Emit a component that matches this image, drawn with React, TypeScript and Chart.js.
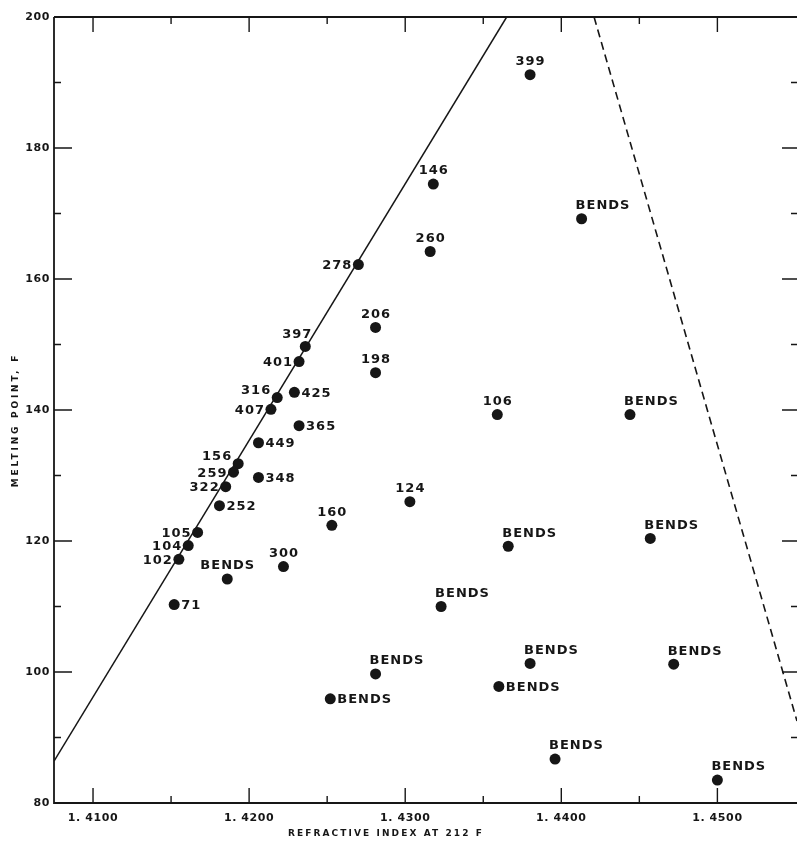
import { useEffect, useRef } from "react";
import { Chart, registerables } from "chart.js";

Chart.register(...registerables);

// ---- data ----
const pointLabels = [
  "399", "146", "BENDS", "260", "278", "206", "198", "397", "401", "316",
  "425", "407", "365", "449", "156", "259", "322", "348", "252", "106",
  "BENDS", "124", "160", "105", "104", "102", "BENDS", "300", "71",
  "BENDS", "BENDS", "BENDS", "BENDS", "BENDS", "BENDS", "BENDS", "BENDS", "BENDS", "BENDS",
];
const refractiveIndex = [
  1.4380, 1.4318, 1.4413, 1.4316, 1.4270, 1.4281, 1.4281, 1.4236, 1.4232, 1.4218,
  1.4229, 1.4214, 1.4232, 1.4206, 1.4193, 1.4190, 1.4185, 1.4206, 1.4181, 1.4359,
  1.4444, 1.4303, 1.4253, 1.4167, 1.4161, 1.4155, 1.4186, 1.4222, 1.4152,
  1.4366, 1.4457, 1.4323, 1.4281, 1.4252, 1.4380, 1.4360, 1.4472, 1.4396, 1.4500,
];
const meltingPoint = [
  191.2, 174.5, 169.2, 164.2, 162.2, 152.6, 145.7, 149.7, 147.4, 141.9,
  142.7, 140.1, 137.6, 135.0, 131.8, 130.5, 128.3, 129.7, 125.4, 139.3,
  139.3, 126.0, 122.4, 121.3, 119.3, 117.2, 114.2, 116.1, 110.3,
  119.2, 120.4, 110.0, 99.7, 95.9, 101.3, 97.8, 101.2, 86.7, 83.5,
];
// where each label sits relative to its dot (style)
const labelPlacement = [
  "above", "above", "aboveR", "above", "left", "above", "above", "aboveL", "left", "upLeft",
  "right", "left", "right", "right", "upLeft", "left", "left", "right", "right", "above",
  "aboveR", "above", "above", "left", "left", "left", "above", "above", "right",
  "aboveR", "aboveR", "aboveR", "aboveR", "right", "aboveR", "right", "aboveR", "aboveR", "aboveR",
];

const solidLineX = [1.4075, 1.4365];
const solidLineY = [86.4, 200];
const dashedLineX = [1.4421, 1.4551];
const dashedLineY = [200, 92.5];

const xMajorTicks = [1.41, 1.42, 1.43, 1.44, 1.45];
const xMinorTicks = [1.415, 1.425, 1.435, 1.445];
const yMajorTicks = [80, 100, 120, 140, 160, 180, 200];
const yMinorTicks = [90, 110, 130, 150, 170, 190];

const X_MIN = 1.4075;
const X_MAX = 1.4551;
const Y_MIN = 80;
const Y_MAX = 200;

const xTitle = "REFRACTIVE INDEX AT 212 F";
const yTitle = "MELTING POINT, F";

const INK = "#161616";
const FONT = "'DejaVu Sans', sans-serif";

const decorPlugin = {
  id: "decor",
  beforeDraw(chart: any) {
    const ctx = chart.ctx;
    ctx.save();
    ctx.fillStyle = "#ffffff";
    ctx.fillRect(0, 0, chart.width, chart.height);
    ctx.restore();
    // letter spacing for the tick labels drawn by the scales
    (ctx as any).letterSpacing = "0.6px";
  },
  afterDatasetsDraw(chart: any) {
    const ctx = chart.ctx;
    const { left, right, top, bottom } = chart.chartArea;
    const xs = chart.scales.x;
    const ys = chart.scales.y;
    ctx.save();
    (ctx as any).letterSpacing = "0px";
    ctx.strokeStyle = INK;
    ctx.lineCap = "butt";
    // axis frame lines
    ctx.lineWidth = 1.8;
    ctx.beginPath();
    ctx.moveTo(left, top);
    ctx.lineTo(right, top);
    ctx.moveTo(left, top);
    ctx.lineTo(left, bottom);
    ctx.lineTo(right, bottom);
    ctx.stroke();
    // tick marks pointing inward
    ctx.lineWidth = 1.4;
    ctx.beginPath();
    const xt = (vals: number[], len: number) => {
      vals.forEach((v) => {
        const px = xs.getPixelForValue(v);
        ctx.moveTo(px, bottom);
        ctx.lineTo(px, bottom - len);
        ctx.moveTo(px, top);
        ctx.lineTo(px, top + len);
      });
    };
    xt(xMajorTicks, 15);
    xt(xMinorTicks, 7);
    const yt = (vals: number[], lenL: number, lenR: number) => {
      vals.forEach((v) => {
        const py = ys.getPixelForValue(v);
        ctx.moveTo(left, py);
        ctx.lineTo(left + lenL, py);
        ctx.moveTo(right, py);
        ctx.lineTo(right - lenR, py);
      });
    };
    yt(yMajorTicks.filter((v) => v !== Y_MIN && v !== Y_MAX), 18, 15);
    yt(yMinorTicks, 7, 6);
    ctx.stroke();

    // point labels
    const meta = chart.getDatasetMeta(0);
    ctx.fillStyle = INK;
    ctx.font = `bold 13px ${FONT}`;
    (ctx as any).letterSpacing = "1px";
    ctx.textBaseline = "middle";
    meta.data.forEach((el: any, i: number) => {
      const px = el.x;
      const py = el.y;
      const t = pointLabels[i];
      const p = labelPlacement[i];
      if (p === "above") {
        ctx.textAlign = "center";
        ctx.fillText(t, px + 0.5, py - 13);
      } else if (p === "aboveR") {
        ctx.textAlign = "left";
        ctx.fillText(t, px - 6, py - 13);
      } else if (p === "aboveL") {
        ctx.textAlign = "right";
        ctx.fillText(t, px + 7, py - 12);
      } else if (p === "left") {
        ctx.textAlign = "right";
        ctx.fillText(t, px - 6, py + 1);
      } else if (p === "upLeft") {
        ctx.textAlign = "right";
        ctx.fillText(t, px - 6, py - 7);
      } else {
        ctx.textAlign = "left";
        ctx.fillText(t, px + 7, py + 1);
      }
    });

    // axis titles
    ctx.font = `bold 9px ${FONT}`;
    (ctx as any).letterSpacing = "2.1px";
    ctx.textAlign = "center";
    ctx.textBaseline = "middle";
    ctx.fillText(xTitle, 386, 834);
    ctx.save();
    ctx.translate(16, 420);
    ctx.rotate(-Math.PI / 2);
    (ctx as any).letterSpacing = "2.8px";
    ctx.fillText(yTitle, 0, 0);
    ctx.restore();
    ctx.restore();
  },
};

export default function App() {
  const ref = useRef<HTMLCanvasElement | null>(null);
  useEffect(() => {
    if (!ref.current) return;
    const points = refractiveIndex.map((x, i) => ({ x, y: meltingPoint[i] }));
    const solid = solidLineX.map((x, i) => ({ x, y: solidLineY[i] }));
    const dashed = dashedLineX.map((x, i) => ({ x, y: dashedLineY[i] }));
    const chart = new Chart(ref.current, {
      type: "scatter",
      data: {
        datasets: [
          {
            data: points,
            backgroundColor: INK,
            borderColor: INK,
            pointRadius: 5.5,
            pointHoverRadius: 5.5,
            borderWidth: 0,
          },
          {
            type: "line",
            data: solid,
            showLine: true,
            borderColor: INK,
            borderWidth: 1.5,
            pointRadius: 0,
            fill: false,
          } as any,
          {
            type: "line",
            data: dashed,
            showLine: true,
            borderColor: INK,
            borderWidth: 1.6,
            borderDash: [8, 5],
            pointRadius: 0,
            fill: false,
          } as any,
        ],
      },
      options: {
        animation: false,
        responsive: false,
        layout: { autoPadding: false, padding: { top: 17, right: 0, left: 0, bottom: 0 } },
        plugins: { legend: { display: false }, tooltip: { enabled: false } },
        events: [],
        scales: {
          x: {
            type: "linear",
            min: X_MIN,
            max: X_MAX,
            grid: { display: false, drawTicks: false },
            border: { display: false },
            afterBuildTicks: (s: any) => {
              s.ticks = xMajorTicks.map((v) => ({ value: v }));
            },
            afterFit: (s: any) => {
              s.height = 40;
            },
            ticks: {
              autoSkip: false,
              maxRotation: 0,
              padding: 9,
              color: INK,
              font: { family: FONT, size: 11, weight: "bold" },
              callback: (v: any) => Number(v).toFixed(4).replace(".", ". "),
            },
          },
          y: {
            type: "linear",
            min: Y_MIN,
            max: Y_MAX,
            grid: { display: false, drawTicks: false },
            border: { display: false },
            afterBuildTicks: (s: any) => {
              s.ticks = yMajorTicks.map((v) => ({ value: v }));
            },
            afterFit: (s: any) => {
              s.width = 54;
            },
            ticks: {
              autoSkip: false,
              padding: 4,
              color: INK,
              font: { family: FONT, size: 11, weight: "bold" },
              callback: (v: any) => String(v),
            },
          },
        },
      },
      plugins: [decorPlugin],
    });
    return () => chart.destroy();
  }, []);
  return (
    <div style={{ position: "absolute", left: 0, top: 0, width: 797, height: 843 }}>
      <canvas ref={ref} width={797} height={843} style={{ display: "block" }} />
    </div>
  );
}
